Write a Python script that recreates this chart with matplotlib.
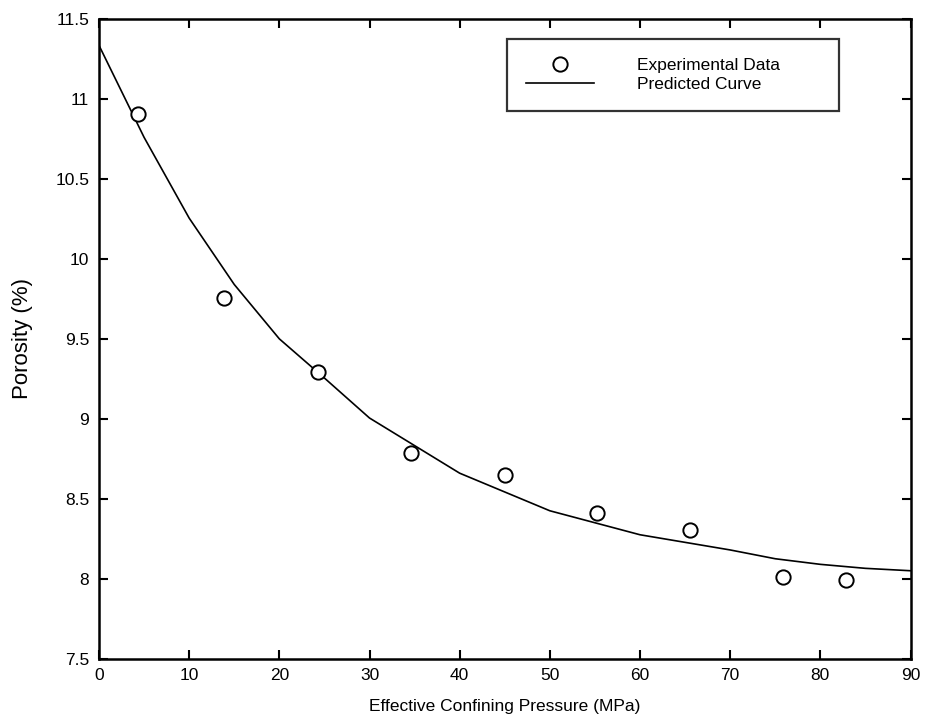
import matplotlib
matplotlib.use("Agg")
import matplotlib.pyplot as plt

# experimental points
p_exp = [4.3, 13.9, 24.3, 34.6, 45.0, 55.2, 65.6, 75.9, 82.8]
phi_exp = [10.905, 9.755, 9.295, 8.785, 8.65, 8.41, 8.305, 8.01, 7.99]

# predicted curve
p_fit = [0, 5, 10, 15, 20, 25, 30, 40, 50, 60, 70, 75, 80, 85, 90]
phi_fit = [11.335, 10.76, 10.255, 9.84, 9.5, 9.255, 9.005, 8.66, 8.425, 8.275, 8.18, 8.125, 8.09, 8.065, 8.05]

xticks = [0, 10, 20, 30, 40, 50, 60, 70, 80, 90]
yticks = [7.5, 8, 8.5, 9, 9.5, 10, 10.5, 11, 11.5]
ylabels = ['7.5', '8', '8.5', '9', '9.5', '10', '10.5', '11', '11.5']

plt.rcParams['font.family'] = ['Liberation Sans', 'DejaVu Sans']

fig = plt.figure(figsize=(9.25, 7.23), dpi=100)
ax = fig.add_axes([99 / 925, 1 - 658.7 / 723, 811.5 / 925, 639.7 / 723])

ax.plot(p_exp, phi_exp, 'o', mfc='white', mec='black', ms=10.3, mew=1.4,
        label='Experimental Data', zorder=3)
ax.plot(p_fit, phi_fit, '-', color='black', lw=1.2, label='Predicted Curve')

ax.set_xlim(0, 90)
ax.set_ylim(7.5, 11.5)
ax.set_xticks(xticks)
ax.set_yticks(yticks)
ax.set_xticklabels([str(t) for t in xticks])
ax.set_yticklabels(ylabels)
ax.tick_params(direction='in', length=6.3, width=1.5, top=True, right=True,
               labelsize=12.5, pad=7)
for s in ax.spines.values():
    s.set_linewidth(1.8)

ax.set_xlabel('Effective Confining Pressure (MPa)', fontsize=12.5, labelpad=11)
ax.set_ylabel('Porosity (%)', fontsize=16)
ax.yaxis.set_label_coords(-0.0813, 0.5)

leg = ax.legend(loc='upper left', bbox_to_anchor=(0.503, 0.858, 0.409, 0.111),
                mode='expand', fontsize=12.5, frameon=True, fancybox=False,
                handlelength=3.9, handletextpad=2.5, borderpad=1.1,
                borderaxespad=0, labelspacing=0.2)
leg.get_frame().set_edgecolor('black')
leg.get_frame().set_linewidth(1.6)

fig.savefig('out.png', dpi=100)
